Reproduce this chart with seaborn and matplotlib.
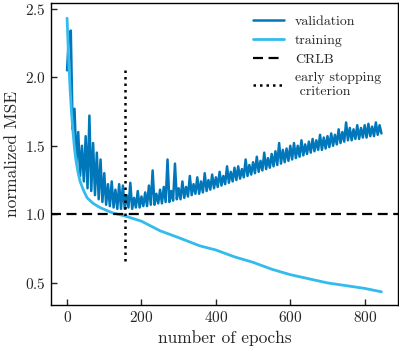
import numpy as np
import pandas as pd
import seaborn as sns
from matplotlib import pyplot as plt

# epochs sampled every 5
epochs = np.arange(0, 850, 5)

val_mse = [
    2.05, 2.31, 2.34, 1.62, 1.77, 1.38, 1.60, 1.28, 1.50, 1.24,
    1.57, 1.19, 1.72, 1.17, 1.52, 1.14, 1.45, 1.11, 1.40, 1.09,
    1.30, 1.07, 1.22, 1.06, 1.24, 1.05, 1.18, 1.04, 1.22, 1.04,
    1.21,
    1.04, 1.14, 1.05, 1.23, 1.04, 1.12, 1.05, 1.17, 1.05, 1.13,
    1.06, 1.16, 1.06, 1.21, 1.07, 1.32, 1.07, 1.15, 1.08, 1.18,
    1.08, 1.20, 1.09, 1.40, 1.09, 1.17, 1.10, 1.37, 1.11, 1.19,
    1.11, 1.24, 1.12, 1.20, 1.13, 1.28, 1.14, 1.22, 1.15, 1.27,
    1.15, 1.24, 1.16, 1.30, 1.17, 1.25, 1.18, 1.29, 1.19, 1.27,
    1.20, 1.31, 1.21, 1.28, 1.22, 1.35, 1.23, 1.31, 1.24, 1.34,
    1.25, 1.35, 1.26, 1.33, 1.27, 1.40, 1.28, 1.36, 1.29, 1.38,
    1.30, 1.42, 1.31, 1.39, 1.32, 1.45, 1.33, 1.41, 1.34, 1.44,
    1.35, 1.46, 1.36, 1.52, 1.37, 1.47, 1.38, 1.48, 1.39, 1.50,
    1.40, 1.52, 1.41, 1.50, 1.42, 1.54, 1.43, 1.51, 1.44, 1.53,
    1.45, 1.55, 1.46, 1.54, 1.47, 1.58, 1.47, 1.56, 1.48, 1.57,
    1.49, 1.59, 1.50, 1.58, 1.51, 1.62, 1.52, 1.60, 1.53, 1.67,
    1.54, 1.63, 1.54, 1.62, 1.55, 1.65, 1.55, 1.63, 1.56, 1.65,
    1.56, 1.66, 1.57, 1.64, 1.57, 1.67, 1.58, 1.65, 1.59,
]

train_epochs = [0, 4, 8, 12, 16, 20, 24, 30, 35, 45, 54, 70, 88, 105, 123, 153,
                200, 250, 300, 357, 400, 450, 500, 550, 600, 650, 700, 750, 800, 845]
train_mse = [2.43, 2.15, 1.92, 1.74, 1.60, 1.48, 1.39, 1.30, 1.24, 1.17, 1.12, 1.08, 1.05, 1.03, 1.01, 0.99,
             0.95, 0.88, 0.83, 0.77, 0.74, 0.69, 0.65, 0.60, 0.56, 0.53, 0.50, 0.48, 0.46, 0.435]

crlb = 1.0
stop_epoch = 155
stop_range = [0.66, 2.08]

sns.set_style('ticks')
plt.rcParams['font.family'] = 'serif'
plt.rcParams['font.serif'] = ['cmr10', 'DejaVu Serif']
plt.rcParams['mathtext.fontset'] = 'cm'
plt.rcParams['axes.formatter.use_mathtext'] = True

fig = plt.figure(figsize=(3.99, 3.5), dpi=100)
ax = fig.add_axes([0.128, 0.129, 0.869, 0.862])

df_val = pd.DataFrame({'epoch': epochs, 'mse': val_mse})
df_train = pd.DataFrame({'epoch': train_epochs, 'mse': train_mse})

sns.lineplot(data=df_val, x='epoch', y='mse', color='#0077bb', lw=1.8, label='validation', ax=ax)
sns.lineplot(data=df_train, x='epoch', y='mse', color='#33bbee', lw=2.0, label='training', ax=ax)
ax.axhline(crlb, color='black', ls=(0, (4.5, 2.5)), lw=1.6, label='CRLB')
ax.plot([stop_epoch, stop_epoch], stop_range, color='black', ls=(0, (1, 1.6)), lw=1.8,
        label='early stopping\n criterion')

ax.set_xlim(-43, 889)
ax.set_ylim(0.34, 2.54)
ax.set_xticks([0, 200, 400, 600, 800])
ax.set_yticks([0.5, 1.0, 1.5, 2.0, 2.5])
ax.set_xlabel('number of epochs', fontsize=12.5)
ax.set_ylabel('normalized MSE', fontsize=12.5)
ax.tick_params(direction='in', labelsize=11, length=4, width=1)
for s in ax.spines.values():
    s.set_linewidth(1.0)
    s.set_color('black')

ax.legend(loc='upper right', bbox_to_anchor=(0.98, 0.993), frameon=False, fontsize=10,
          handlelength=2.2, borderaxespad=0.3, labelspacing=0.45, handletextpad=0.8)

plt.savefig('out.png', dpi=100)
